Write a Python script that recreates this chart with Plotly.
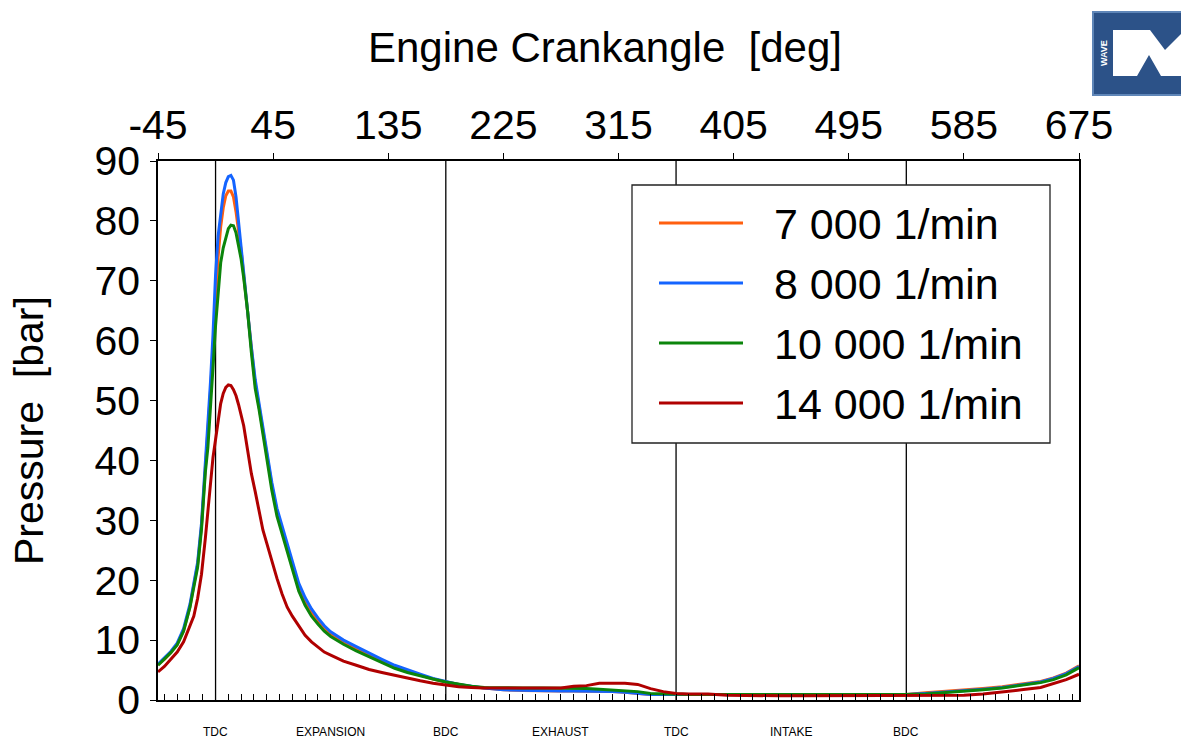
import plotly.graph_objects as go

# ---------------- data ----------------
crank_angle = [-45, -40, -35, -30, -25, -20, -17, -14, -11, -8, -6, -4, -2, 0, 2, 4, 6, 8, 10, 12,
               14, 16, 18, 20, 22, 25, 28, 31, 34, 37, 40, 44, 48, 52, 56, 60, 65, 70, 75, 80,
               85, 90, 100, 110, 120, 130, 140, 150, 160, 170, 180, 190, 200, 210, 225, 240, 255, 270, 280, 290,
               300, 310, 320, 330, 340, 350, 360, 370, 385, 400, 420, 440, 460, 480, 500, 520, 540, 555, 570, 585,
               600, 615, 630, 645, 655, 665, 675]

p_7000 = [5.9, 6.8, 7.9, 9.3, 11.6, 15.6, 19.2, 22.6, 29.0, 38.8, 43.5, 51.5, 58.5, 67.0, 74.0, 79.0, 82.2, 84.2, 85.0, 85.0,
          84.0, 81.5, 78.5, 75.0, 71.0, 64.8, 58.5, 52.8, 49.0, 44.8, 41.0, 35.8, 31.5, 28.5, 25.5, 22.3, 19.0, 16.6, 14.7, 13.3,
          12.0, 11.1, 9.7, 8.6, 7.5, 6.5, 5.5, 4.8, 4.1, 3.5, 3.0, 2.6, 2.2, 2.0, 1.7, 1.6, 1.5, 1.5, 1.5, 1.5,
          1.5, 1.4, 1.3, 1.1, 0.9, 0.9, 0.9, 0.9, 0.9, 0.9, 0.9, 1.0, 1.0, 0.9, 0.9, 0.9, 0.9, 1.2, 1.4, 1.6,
          1.9, 2.2, 2.6, 3.1, 3.7, 4.5, 5.7]

p_8000 = [6.0, 7.0, 8.1, 9.5, 11.9, 16.0, 19.6, 23.0, 29.5, 39.5, 44.5, 53.0, 61.0, 71.0, 77.5, 81.5, 84.5, 86.4, 87.4, 87.6,
          86.8, 84.0, 79.5, 75.5, 71.5, 65.0, 58.9, 53.5, 49.5, 45.3, 41.5, 36.3, 32.0, 29.0, 26.0, 22.8, 19.5, 17.1, 15.2, 13.7,
          12.4, 11.4, 10.0, 8.9, 7.8, 6.8, 5.8, 5.0, 4.3, 3.6, 3.1, 2.6, 2.3, 2.0, 1.7, 1.6, 1.6, 1.5, 1.5, 1.5,
          1.4, 1.4, 1.3, 1.1, 0.9, 0.9, 0.9, 0.9, 0.9, 0.9, 0.9, 0.9, 0.9, 0.9, 0.9, 0.9, 0.9, 1.1, 1.3, 1.6,
          1.8, 2.1, 2.5, 3.0, 3.6, 4.4, 5.6]

p_10000 = [5.8, 6.8, 7.9, 9.2, 11.5, 15.5, 19.0, 22.2, 28.5, 38.0, 42.2, 50.0, 55.5, 62.5, 68.5, 73.0, 75.5, 77.3, 78.7, 79.3,
           79.2, 78.0, 76.0, 73.6, 70.5, 65.0, 58.0, 52.0, 48.5, 44.2, 40.3, 35.0, 30.7, 27.7, 24.8, 21.5, 18.2, 15.8, 14.0, 12.7,
           11.5, 10.6, 9.3, 8.2, 7.2, 6.2, 5.3, 4.6, 4.0, 3.5, 3.0, 2.6, 2.3, 2.1, 2.0, 2.0, 2.0, 2.0, 2.0, 1.9,
           1.8, 1.7, 1.6, 1.4, 1.1, 1.0, 1.0, 0.9, 0.9, 0.9, 0.9, 0.8, 0.8, 0.8, 0.8, 0.8, 0.9, 1.0, 1.2, 1.4,
           1.7, 2.0, 2.4, 2.9, 3.4, 4.2, 5.4]

p_14000 = [4.7, 5.6, 6.8, 8.0, 9.7, 12.2, 14.0, 17.0, 21.0, 27.0, 31.5, 36.5, 40.5, 43.5, 46.5, 49.5, 51.2, 52.2, 52.6, 52.5,
           51.8, 50.8, 49.3, 47.5, 45.8, 41.8, 37.8, 34.8, 31.6, 28.4, 26.2, 23.2, 20.3, 17.7, 15.5, 14.0, 12.3, 10.8, 9.7, 8.9,
           8.0, 7.5, 6.5, 5.8, 5.1, 4.6, 4.1, 3.6, 3.2, 2.8, 2.5, 2.2, 2.1, 2.0, 2.0, 2.0, 2.0, 2.0, 2.3, 2.4,
           2.8, 2.8, 2.8, 2.6, 1.9, 1.4, 1.1, 1.0, 1.0, 0.8, 0.7, 0.7, 0.7, 0.7, 0.7, 0.7, 0.7, 0.7, 0.7, 0.8,
           1.0, 1.3, 1.7, 2.1, 2.7, 3.4, 4.3]

series_names = ["7 000 1/min", "8 000 1/min", "10 000 1/min", "14 000 1/min"]
series_values = [p_7000, p_8000, p_10000, p_14000]
series_colors = ["#ff5f0f", "#1464ff", "#0b850b", "#b00000"]

top_tick_vals = [-45, 45, 135, 225, 315, 405, 495, 585, 675]
top_tick_text = ["-45", "45", "135", "225", "315", "405", "495", "585", "675"]
y_tick_vals = [0, 10, 20, 30, 40, 50, 60, 70, 80, 90]
phase_angles = [0, 90, 180, 270, 360, 450, 540]
phase_labels = ["TDC", "EXPANSION", "BDC", "EXHAUST", "TDC", "INTAKE", "BDC"]
dead_centres = [0, 180, 360, 540]

# ---------------- layout geometry ----------------
W, H = 1181, 738
L, R, T, B = 158, 102, 161, 38
PW, PH = W - L - R, H - T - B
FONT = "Liberation Sans, Arial, sans-serif"


def px(x):
    return (x - L) / PW


def py(y):
    return (H - B - y) / PH


fig = go.Figure()
for name, vals, col in zip(series_names, series_values, series_colors):
    fig.add_trace(go.Scatter(x=crank_angle, y=vals, mode="lines", name=name,
                             line=dict(color=col, width=3), showlegend=False))

# invisible companion trace so that the top (labelled) axis gets drawn
fig.add_trace(go.Scatter(x=crank_angle, y=p_14000, xaxis="x2", mode="lines",
                         line=dict(width=0, color="rgba(0,0,0,0)"), opacity=0,
                         showlegend=False, hoverinfo="skip"))

shapes = []
for a in dead_centres:
    shapes.append(dict(type="line", xref="x", yref="paper", x0=a, x1=a, y0=0, y1=1,
                       line=dict(color="black", width=1.3), layer="below"))

# legend box
shapes.append(dict(type="rect", xref="paper", yref="paper", x0=px(632), x1=px(1050),
                   y0=py(443), y1=py(185), line=dict(color="#222", width=1.3),
                   fillcolor="white", layer="above"))
annotations = []
for i, (name, col) in enumerate(zip(series_names, series_colors)):
    yy = 223 + 60 * i
    shapes.append(dict(type="line", xref="paper", yref="paper", x0=px(659), x1=px(743),
                       y0=py(yy), y1=py(yy), line=dict(color=col, width=3)))
    annotations.append(dict(xref="paper", yref="paper", x=px(772), y=py(yy + 1), text=name,
                            showarrow=False, xanchor="left", yanchor="middle",
                            font=dict(family=FONT, size=43, color="black")))

# phase labels under the axis
for a, lab in zip(phase_angles, phase_labels):
    annotations.append(dict(xref="x", yref="paper", x=a, y=py(732), text=lab, showarrow=False,
                            xanchor="center", yanchor="middle",
                            font=dict(family=FONT, size=12, color="black")))

# titles
annotations.append(dict(xref="paper", yref="paper", x=px(605), y=py(47),
                        text="Engine Crankangle  [deg]", showarrow=False,
                        xanchor="center", yanchor="middle",
                        font=dict(family=FONT, size=42, color="black")))
annotations.append(dict(xref="paper", yref="paper", x=px(29), y=py(431),
                        text="Pressure  [bar]", showarrow=False, textangle=-90,
                        xanchor="center", yanchor="middle",
                        font=dict(family=FONT, size=41, color="black")))

# logo (WAVE badge)
shapes.append(dict(type="path", xref="paper", yref="paper",
                   path=("M {a},{b} L {c},{b} L {c},{d} L {a},{d} Z").format(
                       a=px(1093), b=py(12), c=px(1190), d=py(95)),
                   fillcolor="#2c5288", line=dict(color="#5f86b8", width=2)))
shapes.append(dict(type="path", xref="paper", yref="paper",
                   path="M {} {} L {} {} L {} {} L {} {} L {} {} L {} {} L {} {} L {} {} L {} {} Z".format(
                       px(1113), py(30), px(1150), py(30), px(1165), py(50), px(1181), py(34),
                       px(1181), py(76), px(1161), py(76), px(1149), py(55), px(1137), py(76),
                       px(1113), py(76)),
                   fillcolor="white", line=dict(width=0)))
annotations.append(dict(xref="paper", yref="paper", x=px(1104), y=py(53), text="<b>WAVE</b>",
                        showarrow=False, textangle=-90, xanchor="center", yanchor="middle",
                        font=dict(family=FONT, size=9, color="white")))

fig.update_layout(
    width=W, height=H, autosize=False,
    margin=dict(l=L, r=R, t=T, b=B, pad=0),
    paper_bgcolor="white", plot_bgcolor="white",
    showlegend=False,
    shapes=shapes, annotations=annotations,
    xaxis=dict(range=[-45, 675], side="bottom", showgrid=False, zeroline=False,
               showline=True, linecolor="black", linewidth=1.5,
               ticks="inside", tickmode="linear", tick0=0, dtick=10, ticklen=6,
               tickwidth=1.2, tickcolor="black", showticklabels=False),
    xaxis2=dict(range=[-45, 675], overlaying="x", matches="x", side="top", anchor="y",
                showgrid=False, zeroline=False, showline=True, linecolor="black",
                linewidth=1.5, ticks="outside", tickmode="array", tickvals=top_tick_vals,
                ticktext=top_tick_text, ticklen=6,
                tickwidth=1.2, tickcolor="black", ticklabelstandoff=-2,
                tickfont=dict(family=FONT, size=41, color="black")),
    yaxis=dict(range=[0, 90], showgrid=False, zeroline=False, showline=True,
               linecolor="black", linewidth=1.5, mirror=True, ticks="outside",
               tickvals=y_tick_vals, ticklen=6, tickwidth=1.2, tickcolor="black",
               ticklabelstandoff=2,
               tickfont=dict(family=FONT, size=41, color="black")),
)

fig.write_html("out.html")
